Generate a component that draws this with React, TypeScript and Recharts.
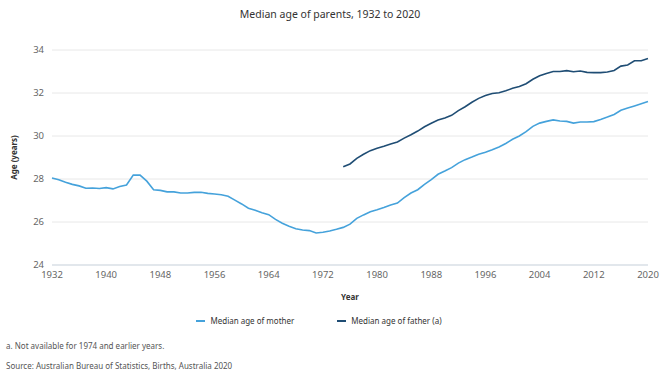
import { LineChart, Line, XAxis, YAxis, CartesianGrid } from "recharts";

const years = [
  1932, 1933, 1934, 1935, 1936, 1937, 1938, 1939, 1940, 1941,
  1942, 1943, 1944, 1945, 1946, 1947, 1948, 1949, 1950, 1951,
  1952, 1953, 1954, 1955, 1956, 1957, 1958, 1959, 1960, 1961,
  1962, 1963, 1964, 1965, 1966, 1967, 1968, 1969, 1970, 1971,
  1972, 1973, 1974, 1975, 1976, 1977, 1978, 1979, 1980, 1981,
  1982, 1983, 1984, 1985, 1986, 1987, 1988, 1989, 1990, 1991,
  1992, 1993, 1994, 1995, 1996, 1997, 1998, 1999, 2000, 2001,
  2002, 2003, 2004, 2005, 2006, 2007, 2008, 2009, 2010, 2011,
  2012, 2013, 2014, 2015, 2016, 2017, 2018, 2019, 2020,
];

// 1932 - 2020
const mother = [
  28.05, 27.97, 27.85, 27.75, 27.68, 27.57, 27.58, 27.56, 27.6, 27.54,
  27.65, 27.72, 28.18, 28.18, 27.9, 27.5, 27.47, 27.4, 27.4, 27.35,
  27.35, 27.38, 27.38, 27.33, 27.3, 27.27, 27.2, 27.02, 26.84, 26.64,
  26.55, 26.43, 26.34, 26.12, 25.94, 25.8, 25.69, 25.63, 25.6, 25.49,
  25.52, 25.58, 25.66, 25.75, 25.9, 26.17, 26.33, 26.48, 26.57, 26.67,
  26.79, 26.88, 27.13, 27.35, 27.5, 27.75, 27.97, 28.22, 28.37, 28.53,
  28.74, 28.9, 29.02, 29.15, 29.24, 29.36, 29.49, 29.65, 29.85, 30.0,
  30.2, 30.45, 30.6, 30.68, 30.75, 30.7, 30.68, 30.6, 30.65, 30.65,
  30.67, 30.77, 30.88, 31.0, 31.2, 31.3, 31.4, 31.5, 31.6,
];

// 1975 - 2020 (not available for 1974 and earlier)
const fatherFirstYear = 1975;
const father = [
  28.57, 28.7, 28.96, 29.15, 29.32, 29.43, 29.52, 29.63, 29.72, 29.9,
  30.06, 30.23, 30.43, 30.59, 30.74, 30.84, 30.96, 31.18, 31.36, 31.57,
  31.75, 31.88, 31.98, 32.01, 32.1, 32.22, 32.3, 32.43, 32.64, 32.8,
  32.91, 33.0, 33.0, 33.04, 32.99, 33.02, 32.96, 32.95, 32.95, 32.98,
  33.05, 33.25, 33.3, 33.5, 33.5, 33.6,
];

const xTicks = [1932, 1940, 1948, 1956, 1964, 1972, 1980, 1988, 1996, 2004, 2012, 2020];
const yTicks = [24, 26, 28, 30, 32, 34];

const MOTHER_COLOR = "#45a2db";
const FATHER_COLOR = "#1f4d74";
const FONT = "'Segoe UI', 'Noto Sans', 'Open Sans', sans-serif";

const data = years.map((year, i) => {
  const fi = year - fatherFirstYear;
  return {
    year,
    mother: mother[i],
    father: fi >= 0 ? father[fi] : null,
  };
});

function LegendItem({ color, label }: { color: string; label: string }) {
  return (
    <div style={{ display: "flex", alignItems: "center", gap: 5 }}>
      <span style={{ width: 9, height: 2, background: color, display: "inline-block" }} />
      <span>{label}</span>
    </div>
  );
}

export default function App() {
  return (
    <div
      style={{
        position: "absolute",
        left: 0,
        top: 0,
        width: 660,
        height: 380,
        background: "#fff",
        fontFamily: FONT,
      }}
    >
      <div
        style={{
          position: "absolute",
          top: 7,
          width: 660,
          textAlign: "center",
          fontSize: 10.5,
          color: "#333",
        }}
      >
        Median age of parents, 1932 to 2020
      </div>

      <LineChart
        width={660}
        height={306}
        data={data}
        margin={{ top: 50, right: 12, bottom: 0, left: 0 }}
      >
        <CartesianGrid vertical={false} stroke="#e8e8e8" />
        <XAxis
          dataKey="year"
          type="number"
          domain={[1932, 2020]}
          ticks={xTicks}
          height={41}
          tickLine={false}
          tickSize={4}
          axisLine={{ stroke: "#dde3ea", strokeWidth: 1.5 }}
          tick={{ fill: "#666", fontSize: 9.5, fontFamily: FONT }}
          label={{
            value: "Year",
            position: "insideBottom",
            offset: 6,
            style: { fill: "#333", fontSize: 8, fontWeight: 700, fontFamily: FONT },
          }}
        />
        <YAxis
          domain={[24, 34]}
          ticks={yTicks}
          width={52}
          axisLine={false}
          tickLine={false}
          tick={{ fill: "#666", fontSize: 9.5, fontFamily: FONT }}
          label={{
            value: "Age (years)",
            angle: -90,
            position: "insideLeft",
            offset: 14,
            style: { fill: "#333", fontSize: 8, fontWeight: 700, fontFamily: FONT, textAnchor: "middle" },
          }}
        />
        <Line
          type="linear"
          dataKey="mother"
          stroke={MOTHER_COLOR}
          strokeWidth={1.6}
          dot={false}
          isAnimationActive={false}
        />
        <Line
          type="linear"
          dataKey="father"
          stroke={FATHER_COLOR}
          strokeWidth={1.6}
          dot={false}
          connectNulls={false}
          isAnimationActive={false}
        />
      </LineChart>

      <div
        style={{
          position: "absolute",
          top: 315,
          left: 0,
          width: 660,
          display: "flex",
          justifyContent: "center",
          gap: 43,
          fontSize: 8,
          color: "#333",
          paddingRight: 22,
          boxSizing: "border-box",
        }}
      >
        <LegendItem color={MOTHER_COLOR} label="Median age of mother" />
        <LegendItem color={FATHER_COLOR} label="Median age of father (a)" />
      </div>

      <div style={{ position: "absolute", top: 340, left: 6, fontSize: 8, color: "#555" }}>
        a. Not available for 1974 and earlier years.
      </div>
      <div style={{ position: "absolute", top: 360, left: 6, fontSize: 8, color: "#555" }}>
        Source: Australian Bureau of Statistics, Births, Australia 2020
      </div>
    </div>
  );
}
